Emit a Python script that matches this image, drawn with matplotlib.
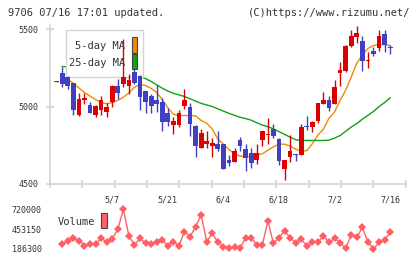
import numpy as np
import matplotlib
matplotlib.use("Agg")
import matplotlib.pyplot as plt
from matplotlib.patches import Rectangle

plt.rcParams['font.family'] = ['DejaVu Sans Mono']

# trading days shown (4/18 - 7/16)
dates = ["4/18", "4/21", "4/22", "4/23", "4/24", "4/25", "4/28", "4/30",
         "5/1", "5/2", "5/7", "5/8", "5/9", "5/12", "5/13", "5/14", "5/15", "5/16",
         "5/19", "5/20", "5/21", "5/22", "5/23", "5/26", "5/27", "5/28", "5/29", "5/30",
         "6/2", "6/3", "6/4", "6/5", "6/6", "6/9", "6/10", "6/11", "6/12", "6/13",
         "6/16", "6/17", "6/18", "6/19", "6/20", "6/23", "6/24", "6/25", "6/26", "6/27",
         "6/30", "7/1", "7/2", "7/3", "7/4", "7/7", "7/8", "7/9", "7/10", "7/11",
         "7/14", "7/15", "7/16"]
label_dates = ["5/7", "5/21", "6/4", "6/18", "7/2", "7/16"]

opens = [5158, 5215, 5190, 5151, 4945, 5040, 5011, 4945, 4975, 4963,
         5030, 5135, 5145, 5135, 5220, 5200, 5097, 5071, 5045, 5028,
         4955, 4882, 4882, 5002, 5000, 4877, 4731, 4759, 4744, 4755,
         4755, 4652, 4641, 4781, 4723, 4699, 4658, 4781, 4817, 4856,
         4792, 4594, 4673, 4692, 4690, 4877, 4871, 4905, 5017, 5045,
         5013, 5215, 5232, 5393, 5447, 5425, 5296, 5361, 5377, 5465, 5387]
highs = [5162, 5258, 5200, 5153, 5086, 5090, 5028, 5010, 5066, 5020,
         5140, 5180, 5437, 5210, 5240, 5205, 5103, 5082, 5140, 5055,
         4990, 4931, 4980, 5114, 5025, 4880, 4856, 4841, 4800, 4841,
         4758, 4684, 4734, 4802, 4755, 4731, 4755, 4839, 4927, 4884,
         4795, 4655, 4813, 4695, 4884, 4942, 4905, 5024, 5093, 5067,
         5168, 5290, 5395, 5495, 5522, 5454, 5350, 5387, 5495, 5495, 5400]
lows = [5158, 5125, 5112, 4948, 4942, 5015, 4957, 4931, 4945, 4933,
        5000, 5048, 5125, 5082, 5148, 4979, 4957, 4957, 4965, 4845,
        4872, 4825, 4867, 4985, 4807, 4677, 4731, 4734, 4673, 4716,
        4594, 4613, 4641, 4716, 4581, 4602, 4626, 4748, 4759, 4798,
        4624, 4527, 4641, 4648, 4688, 4850, 4834, 4893, 5015, 4970,
        5013, 5131, 5225, 5383, 5409, 5232, 5247, 5324, 5361, 5351, 5340]
closes = [5162, 5146, 5131, 4976, 5050, 5054, 4958, 5006, 5045, 5000,
          5135, 5086, 5193, 5168, 5151, 5064, 5028, 5002, 5017, 4899,
          4899, 4906, 4960, 5045, 4888, 4748, 4832, 4776, 4764, 4727,
          4594, 4634, 4716, 4742, 4669, 4634, 4699, 4839, 4820, 4807,
          4648, 4652, 4710, 4689, 4871, 4866, 4903, 5022, 5045, 4989,
          5129, 5237, 5393, 5454, 5475, 5292, 5298, 5340, 5452, 5398, 5379]

ma5 = [np.nan, 5195, 5175, 5150, 5120, 5090, 5068, 5045, 5025, 5018,
       5025, 5040, 5060, 5088, 5125, 5142, 5135, 5117, 5090, 5045,
       4992, 4950, 4942, 4942, 4942, 4940, 4910, 4892, 4855, 4790,
       4757, 4722, 4695, 4680, 4677, 4677, 4688, 4695, 4718, 4740,
       4757, 4757, 4745, 4725, 4712, 4715, 4760, 4815, 4855, 4925,
       4965, 5040, 5105, 5190, 5280, 5330, 5375, 5393, 5400, 5400, 5393]
ma25 = [np.nan, 5258, 5255, 5250, 5245, 5240, 5236, 5232, 5228, 5224,
        5220, 5215, 5210, 5205, 5198, 5192, 5180, 5162, 5140, 5118,
        5100, 5085, 5075, 5065, 5050, 5035, 5020, 5010, 5000, 4985,
        4970, 4956, 4943, 4931, 4922, 4912, 4895, 4880, 4870, 4855,
        4838, 4820, 4802, 4786, 4781, 4781, 4781, 4781, 4781, 4783,
        4796, 4813, 4840, 4868, 4890, 4918, 4943, 4968, 5000, 5025, 5056]

volume = [np.nan, 249000, 298300, 329700, 298300, 231100, 249000, 249000, 329700, 284900,
          320700, 450700, 720000, 361100, 240100, 329700, 262500, 249000, 284900, 307300,
          231100, 284900, 231100, 419300, 352100, 486500, 643400, 284900, 396900, 275900,
          217700, 195300, 208700, 195300, 338700, 338700, 240100, 240100, 562700, 262500,
          338700, 432800, 338700, 271400, 316200, 231100, 284900, 275900, 365500, 275900,
          329700, 271400, 195300, 374500, 343100, 477600, 284900, 186300, 275900, 307300, 410400]

RED = '#dd0000'
BLUE = '#4040c0'
GRID = '#d4d4d4'
TXT = '#333333'

W, H = 420, 259
fig = plt.figure(figsize=(W / 100, H / 100), dpi=100)


def px_axes(x0, y0, x1, y1):
    return fig.add_axes([x0 / W, 1 - y1 / H, (x1 - x0) / W, (y1 - y0) / H])


x = np.arange(len(dates))
o = np.array(opens)
c = np.array(closes)
up = c >= o

# price panel
ax = px_axes(50, 25, 405.7, 184)
ax.set_xlim(-1.2, 62.8)
ax.set_ylim(4500, 5526)

ax.plot(x, ma5, color='#f08a00', lw=1.0, zorder=2)
ax.plot(x, ma25, color='#14a014', lw=1.0, zorder=2)

# legend box sits between MA lines and candles
ax.add_patch(Rectangle((0.045, 0.673), 0.2165, 0.296, transform=ax.transAxes,
                       facecolor='white', edgecolor=GRID, lw=1.0, zorder=3))
ax.text(0.211, 0.868, "5-day MA", transform=ax.transAxes, ha='right', va='center',
        fontsize=7.5, color=TXT, zorder=3)
ax.text(0.211, 0.761, "25-day MA", transform=ax.transAxes, ha='right', va='center',
        fontsize=7.5, color=TXT, zorder=3)
ax.add_patch(Rectangle((0.2305, 0.824), 0.0141, 0.10, transform=ax.transAxes,
                       facecolor='#f08a00', edgecolor='#444444', lw=0.8, zorder=3))
ax.add_patch(Rectangle((0.2305, 0.723), 0.0141, 0.095, transform=ax.transAxes,
                       facecolor='#14a014', edgecolor='#444444', lw=0.8, zorder=3))

cols = np.where(up, RED, BLUE)
ax.vlines(x, lows, highs, colors=cols, lw=1.0, zorder=4)
body = np.maximum(np.abs(c - o), 6)
ax.bar(x, body, bottom=np.minimum(o, c), width=0.85, color=cols, lw=0, zorder=5)

for s in ['top', 'right']:
    ax.spines[s].set_visible(False)
for s in ['left', 'bottom']:
    ax.spines[s].set_color(GRID)
    ax.spines[s].set_linewidth(1.2)

ax.set_yticks([4500, 5000, 5500])
ax.set_yticklabels(["4500", "5000", "5500"])
ax.tick_params(axis='y', direction='inout', length=6, width=1.2, color=GRID,
               labelsize=6, labelcolor=TXT, pad=5)
ax.set_xticks([dates.index(d) for d in label_dates])
ax.set_xticklabels(label_dates)
ax.tick_params(axis='x', which='major', length=0, labelsize=6, labelcolor=TXT, pad=8)
ax.set_xticks(np.linspace(-1.2, 62.8, 12), minor=True)
ax.tick_params(axis='x', which='minor', direction='inout', length=6, width=1.2, color=GRID)

# volume panel
vax = px_axes(50, 205, 405.7, 252)
vax.set_xlim(-1.2, 62.8)
vax.set_ylim(145970, 777800)
vax.plot(x, volume, color='#ff5f64', lw=1.0, marker='D', markersize=4.2,
         markeredgewidth=0)
for s in vax.spines.values():
    s.set_visible(False)
vax.set_xticks([])
vax.set_yticks([186300, 453150, 720000])
vax.set_yticklabels(["186300", "453150", "720000"])
vax.tick_params(axis='y', length=0, labelsize=6, labelcolor=TXT, pad=6)
vax.text(0.1265, 0.638, "Volume", transform=vax.transAxes, ha='right', va='center',
         fontsize=7.5, color=TXT)
vax.add_patch(Rectangle((0.1434, 0.511), 0.0168, 0.319, transform=vax.transAxes,
                        facecolor='#ff6064', edgecolor='#444444', lw=0.8))

fig.text(8 / W, 1 - 12.5 / H, "9706 07/16 17:01 updated.", fontsize=7.5,
         color=TXT, va='center', ha='left')
fig.text(410 / W, 1 - 12.5 / H, "(C)https://www.rizumu.net/", fontsize=7.5,
         color=TXT, va='center', ha='right')

fig.savefig("out.png", dpi=100)
